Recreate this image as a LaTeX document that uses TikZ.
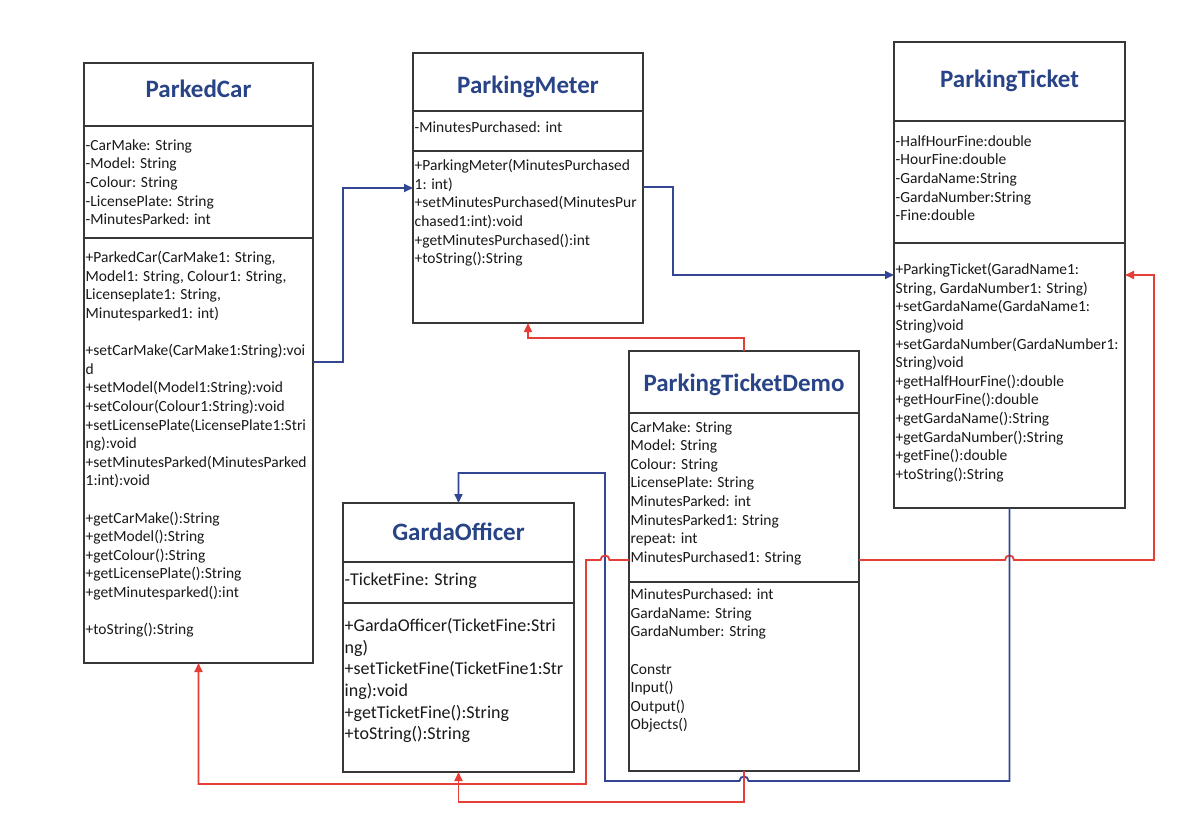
\documentclass[tikz,border=0pt]{standalone}
\usepackage{fontspec}
\setmainfont{Carlito}
\usetikzlibrary{arrows.meta}
\definecolor{ttl}{RGB}{40,68,135}
\definecolor{bln}{RGB}{50,70,145}
\definecolor{rln}{RGB}{228,62,55}
\definecolor{brd}{RGB}{55,55,55}
\tikzset{
  cls/.style={draw=brd, line width=1.3pt, inner sep=0pt, outer sep=0pt, anchor=north west, fill=white},
  sep/.style={draw=brd, line width=1.3pt},
  ttlnode/.style={anchor=base, inner sep=0pt, text=ttl, font=\fontsize{25}{30}\selectfont\bfseries},
  body/.style={anchor=north west, inner sep=0pt, align=left, text=black!90, font=\fontsize{15.5}{18.6}\selectfont},
  bodybig/.style={anchor=north west, inner sep=0pt, align=left, text=black!90, font=\fontsize{18}{21.6}\selectfont},
  bl/.style={draw=bln, line width=1.8pt, -{Triangle[length=9pt,width=8pt]}},
  rl/.style={draw=rln, line width=1.8pt, -{Triangle[length=9pt,width=8pt]}},
}
\begin{document}
\begin{tikzpicture}[x=1pt,y=-1pt]
\useasboundingbox[fill=white] (0,0) rectangle (1184,838);

% ParkedCar
\node[cls, minimum width=229pt, minimum height=600pt] (pc) at (84,63) {};
\draw[sep] (84,126) -- (313,126);
\draw[sep] (84,238) -- (313,238);
\node[ttlnode] (pct) at (198.5,97.3) {ParkedCar};
\node[body] (pca) at (85.5,137) {\strut-CarMake: String\\-Model: String\\-Colour: String\\-LicensePlate: String\\-MinutesParked: int};
\node[body] (pcm) at (85.5,249.5) {\strut+ParkedCar(CarMake1: String,\\Model1: String, Colour1: String,\\Licenseplate1: String,\\Minutesparked1: int)\\[18.6pt]+setCarMake(CarMake1:String):voi\\d\\+setModel(Model1:String):void\\+setColour(Colour1:String):void\\+setLicensePlate(LicensePlate1:Stri\\ng):void\\+setMinutesParked(MinutesParked\\1:int):void\\[18.6pt]+getCarMake():String\\+getModel():String\\+getColour():String\\+getLicensePlate():String\\+getMinutesparked():int\\[18.6pt]+toString():String};

% ParkingMeter
\node[cls, minimum width=230pt, minimum height=270pt] (pm) at (413,53) {};
\draw[sep] (413,111) -- (643,111);
\draw[sep] (413,151) -- (643,151);
\node[ttlnode] (pmt) at (528,93) {ParkingMeter};
\node[body] (pma) at (414.5,119.5) {\strut-MinutesPurchased: int};
\node[body] (pmm) at (414.5,157.5) {\strut+ParkingMeter(MinutesPurchased\\1: int)\\+setMinutesPurchased(MinutesPur\\chased1:int):void\\+getMinutesPurchased():int\\+toString():String};

% ParkingTicket
\node[cls, minimum width=231pt, minimum height=466pt] (pt) at (894,42) {};
\draw[sep] (894,121) -- (1125,121);
\draw[sep] (894,243) -- (1125,243);
\node[ttlnode] (ptt) at (1009.5,87.5) {ParkingTicket};
\node[body] (pta) at (895.5,133) {\strut-HalfHourFine:double\\-HourFine:double\\-GardaName:String\\-GardaNumber:String\\-Fine:double};
\node[body] (ptm) at (895.5,261.5) {\strut+ParkingTicket(GaradName1:\\String, GardaNumber1: String)\\+setGardaName(GardaName1:\\String)void\\+setGardaNumber(GardaNumber1:\\String)void\\+getHalfHourFine():double\\+getHourFine():double\\+getGardaName():String\\+getGardaNumber():String\\+getFine():double\\+toString():String};

% ParkingTicketDemo
\node[cls, minimum width=230pt, minimum height=420pt] (ptd) at (629,351) {};
\draw[sep] (629,413) -- (859,413);
\draw[sep] (629,582) -- (859,582);
\node[ttlnode] (ptdt) at (744,391.5) {ParkingTicketDemo};
\node[body] (ptda) at (630.5,418.8) {\strut CarMake: String\\Model: String\\Colour: String\\LicensePlate: String\\MinutesParked: int\\MinutesParked1: String\\repeat: int\\MinutesPurchased1: String};
\node[body] (ptdm) at (630.5,586.5) {\strut MinutesPurchased: int\\GardaName: String\\GardaNumber: String\\[18.6pt]Constr\\Input()\\Output()\\Objects()};

% GardaOfficer
\node[cls, minimum width=231pt, minimum height=269pt] (go) at (343,503) {};
\draw[sep] (343,562) -- (574,562);
\draw[sep] (343,603) -- (574,603);
\node[ttlnode] (got) at (458.5,540) {GardaOfficer};
\node[bodybig] (goa) at (344.5,570.4) {\strut-TicketFine: String};
\node[bodybig] (gom) at (344.5,616.4) {\strut+GardaOfficer(TicketFine:Stri\\ng)\\+setTicketFine(TicketFine1:Str\\ing):void\\+getTicketFine():String\\+toString():String};

% connectors
\draw[bl] (pc.east |- 0,362) -- (343,362) -- (343,188) -- (pm.west |- 0,188);
\draw[bl] (pm.east |- 0,187) -- (673,187) -- (673,275) -- (pt.west |- 0,275);
\draw[rl] (ptd.north) -- (744,338) -- (528,338) -- (pm.south);
\draw[rl] (ptd.east |- 0,560) -- (1005,560) .. controls (1005,554) and (1014,554) .. (1014,560) -- (1154,560) -- (1154,275) -- (pt.east |- 0,275);
\draw[bl] (pt.south) -- (1009.5,781) -- (748.5,781) .. controls (748.5,775) and (739.5,775) .. (739.5,781) -- (605,781) -- (605,473) -- (go.north |- 0,473) -- (go.north);
\draw[rl] (ptd.west |- 0,560) -- (609.5,560) .. controls (609.5,554) and (600.5,554) .. (600.5,560) -- (586,560) -- (586,784) -- (pc.south |- 0,784) -- (pc.south);
\draw[rl] (ptd.south) -- (744,802) -- (go.south |- 0,802) -- (go.south);
\end{tikzpicture}
\end{document}
